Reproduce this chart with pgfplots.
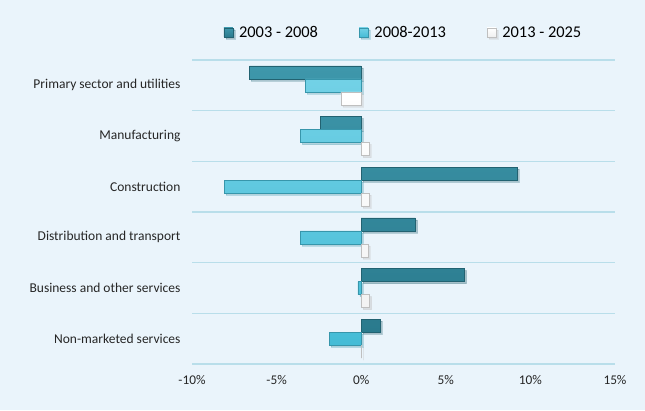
\documentclass[border=0pt]{standalone}
\usepackage{fontspec}
\setmainfont{Carlito}
\usepackage{pgfplots}
\pgfplotsset{compat=1.18}
\usetikzlibrary{shadows}
\definecolor{bg}{HTML}{EAF4FB}
\definecolor{gridc}{HTML}{B9DEEA}
\definecolor{darkA}{HTML}{2A7A8D}
\definecolor{darkB}{HTML}{3E97AB}
\definecolor{lightA}{HTML}{45BCD6}
\definecolor{lightB}{HTML}{72D1E6}
\begin{document}
\begin{tikzpicture}
\fill[bg] (0pt,0pt) rectangle (645pt,410pt);
\useasboundingbox (0pt,0pt) rectangle (645pt,410pt);
\begin{axis}[
    at={(192pt,46pt)}, anchor=south west,
    width=423pt, height=304pt, scale only axis,
    xbar, bar width=13pt,
    xmin=-10, xmax=15,
    ymin=-0.5, ymax=5.5,
    xtick={-10,-5,0,5,10,15},
    xticklabel={\pgfmathprintnumber{\tick}\%},
    ytick={0,1,2,3,4,5},
    yticklabels={Non-marketed services,Business and other services,Distribution and transport,Construction,Manufacturing,Primary sector and utilities},
    minor ytick={-0.5,0.5,1.5,2.5,3.5,4.5,5.5},
    yminorgrids, minor grid style={gridc, line width=1.2pt},
    major tick length=0pt, minor tick length=0pt,
    axis line style={draw=none},
    tick label style={text=black!85},
    xticklabel style={font=\fontsize{13.3}{15}\selectfont, yshift=-8pt},
    yticklabel style={font=\fontsize{13.5}{15}\selectfont, xshift=-8pt},
    /pgf/number format/assume math mode=true,
    legend style={at={(0.5,1.0)}, anchor=south, yshift=17pt, draw=none, fill=none,
      legend columns=-1, font=\fontsize{16.4}{18}\selectfont,
      /tikz/every odd column/.append style={column sep=4pt},
      /tikz/every even column/.append style={column sep=39pt}},
    legend image code/.code={\draw[#1] (0pt,-4.5pt) rectangle (9pt,4.5pt);},
    ]
\addplot[bar shift=13pt, draw=darkA!80!black, top color=darkB, bottom color=darkA,
    drop shadow={shadow xshift=2pt, shadow yshift=-2pt, opacity=0.25}]
    coordinates {(-6.6,5) (-2.4,4) (9.2,3) (3.2,2) (6.1,1) (1.1,0)};
\addplot[bar shift=0pt, draw=lightA!80!black, top color=lightB, bottom color=lightA,
    drop shadow={shadow xshift=2pt, shadow yshift=-2pt, opacity=0.25}]
    coordinates {(-3.3,5) (-3.6,4) (-8.1,3) (-3.6,2) (-0.2,1) (-1.9,0)};
\addplot[bar shift=-13pt, draw=black!25, top color=white, bottom color=black!6,
    drop shadow={shadow xshift=2pt, shadow yshift=-2pt, opacity=0.25}]
    coordinates {(-1.2,5) (0.45,4) (0.45,3) (0.4,2) (0.5,1) (0,0)};
\legend{2003 - 2008,2008-2013,2013 - 2025}
\end{axis}
\end{tikzpicture}
\end{document}
